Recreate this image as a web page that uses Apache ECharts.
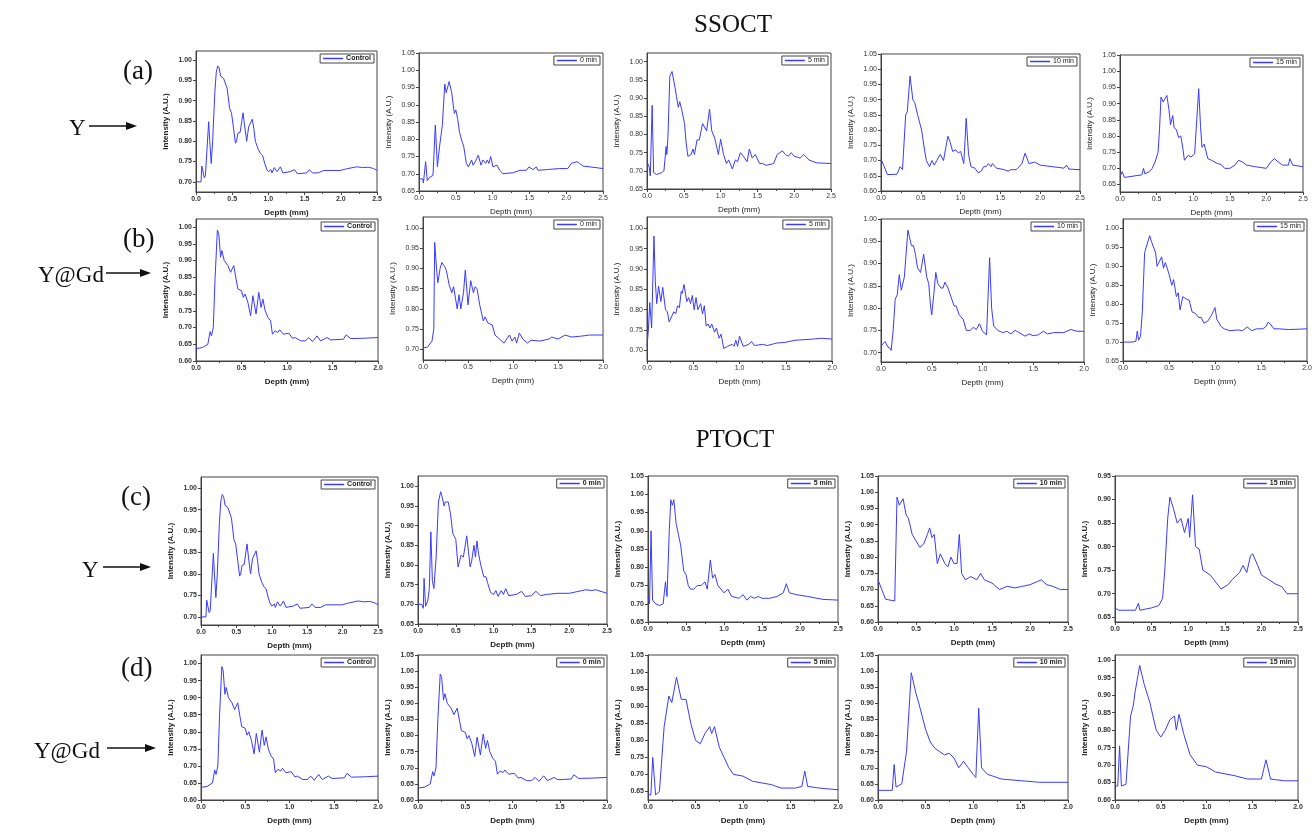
<!DOCTYPE html>
<html>
<head>
<meta charset="utf-8">
<script src="https://cdn.jsdelivr.net/npm/echarts@6/dist/echarts.min.js"></script>
<style>
html,body{margin:0;padding:0;background:#fff}
#main{width:1316px;height:839px}
</style>
</head>
<body>
<div id="main"></div>
<script>
// depth (mm), intensity (A.U.)
var ssY_ctrl = [[0,0.70],[0.07,0.70],[0.08,0.739],[0.095,0.735],[0.115,0.71],[0.13,0.715],[0.175,0.848],[0.19,0.80],[0.21,0.745],[0.23,0.80],[0.26,0.92],[0.28,0.97],[0.30,0.985],[0.32,0.98],[0.34,0.96],[0.36,0.96],[0.38,0.955],[0.405,0.955],[0.43,0.93],[0.465,0.88],[0.49,0.87],[0.52,0.83],[0.545,0.795],[0.56,0.80],[0.58,0.82],[0.61,0.822],[0.65,0.87],[0.67,0.84],[0.70,0.80],[0.727,0.835],[0.75,0.832],[0.778,0.854],[0.80,0.83],[0.82,0.80],[0.86,0.78],[0.89,0.77],[0.92,0.765],[0.95,0.745],[0.98,0.73],[1.0,0.725],[1.035,0.73],[1.05,0.722],[1.08,0.735],[1.12,0.725],[1.165,0.737],[1.2,0.722],[1.3,0.725],[1.36,0.73],[1.40,0.72],[1.53,0.722],[1.565,0.73],[1.61,0.722],[1.69,0.722],[1.76,0.728],[1.99,0.728],[2.08,0.732],[2.22,0.737],[2.3,0.735],[2.38,0.736],[2.45,0.733],[2.5,0.728]];
var ssY_0 = [[0,0.685],[0.05,0.685],[0.06,0.673],[0.09,0.735],[0.113,0.68],[0.145,0.69],[0.19,0.695],[0.222,0.841],[0.25,0.72],[0.28,0.78],[0.317,0.84],[0.35,0.96],[0.37,0.935],[0.385,0.94],[0.41,0.967],[0.444,0.935],[0.455,0.94],[0.48,0.875],[0.50,0.885],[0.525,0.86],[0.55,0.82],[0.59,0.79],[0.607,0.78],[0.643,0.73],[0.67,0.72],[0.69,0.725],[0.715,0.74],[0.734,0.725],[0.765,0.735],[0.806,0.754],[0.842,0.725],[0.87,0.74],[0.906,0.73],[0.928,0.74],[0.95,0.73],[0.974,0.75],[1.005,0.72],[1.06,0.725],[1.096,0.71],[1.14,0.70],[1.28,0.703],[1.37,0.71],[1.46,0.71],[1.495,0.72],[1.55,0.712],[1.594,0.72],[1.617,0.71],[1.73,0.712],[1.91,0.715],[2.02,0.715],[2.07,0.73],[2.15,0.735],[2.18,0.73],[2.23,0.722],[2.32,0.72],[2.5,0.715]];
var ssY_5 = [[0,0.725],[0.03,0.71],[0.045,0.686],[0.07,0.88],[0.09,0.695],[0.13,0.69],[0.2,0.695],[0.23,0.70],[0.26,0.767],[0.27,0.745],[0.285,0.795],[0.31,0.96],[0.34,0.973],[0.38,0.93],[0.40,0.905],[0.425,0.875],[0.445,0.89],[0.47,0.87],[0.51,0.83],[0.53,0.78],[0.555,0.74],[0.60,0.745],[0.625,0.76],[0.645,0.745],[0.68,0.785],[0.71,0.785],[0.755,0.83],[0.78,0.83],[0.81,0.81],[0.85,0.87],[0.88,0.81],[0.92,0.79],[0.97,0.745],[1.0,0.787],[1.04,0.745],[1.08,0.72],[1.11,0.73],[1.16,0.705],[1.2,0.73],[1.23,0.725],[1.27,0.75],[1.31,0.74],[1.36,0.725],[1.39,0.76],[1.43,0.735],[1.47,0.745],[1.53,0.72],[1.57,0.72],[1.62,0.715],[1.72,0.72],[1.77,0.745],[1.84,0.755],[1.88,0.745],[1.92,0.74],[1.96,0.75],[2.0,0.74],[2.08,0.735],[2.13,0.745],[2.2,0.73],[2.3,0.722],[2.5,0.72]];
var ssY_10 = [[0,0.705],[0.04,0.681],[0.08,0.654],[0.2,0.655],[0.24,0.68],[0.27,0.67],[0.31,0.85],[0.33,0.86],[0.365,0.978],[0.40,0.90],[0.425,0.89],[0.46,0.85],[0.51,0.80],[0.55,0.73],[0.57,0.70],[0.59,0.705],[0.61,0.68],[0.64,0.70],[0.67,0.685],[0.70,0.70],[0.745,0.72],[0.785,0.70],[0.84,0.78],[0.87,0.76],[0.90,0.73],[0.94,0.735],[0.97,0.725],[1.0,0.73],[1.04,0.69],[1.07,0.839],[1.10,0.72],[1.13,0.68],[1.18,0.675],[1.22,0.66],[1.26,0.665],[1.29,0.68],[1.32,0.68],[1.35,0.69],[1.38,0.68],[1.40,0.69],[1.45,0.675],[1.55,0.67],[1.60,0.665],[1.63,0.67],[1.65,0.665],[1.70,0.67],[1.77,0.69],[1.81,0.724],[1.86,0.69],[1.93,0.695],[2.0,0.685],[2.15,0.68],[2.3,0.675],[2.33,0.685],[2.36,0.672],[2.5,0.67]];
var ssY_15 = [[0,0.675],[0.03,0.69],[0.06,0.672],[0.15,0.675],[0.30,0.68],[0.32,0.70],[0.34,0.683],[0.40,0.69],[0.44,0.70],[0.48,0.72],[0.52,0.75],[0.54,0.82],[0.56,0.92],[0.59,0.905],[0.61,0.905],[0.64,0.925],[0.67,0.88],[0.69,0.835],[0.72,0.863],[0.74,0.825],[0.77,0.82],[0.80,0.795],[0.83,0.80],[0.86,0.76],[0.88,0.725],[0.90,0.72],[0.93,0.74],[0.97,0.735],[1.02,0.745],[1.04,0.74],[1.075,0.946],[1.10,0.83],[1.12,0.765],[1.15,0.775],[1.20,0.73],[1.25,0.725],[1.33,0.715],[1.38,0.712],[1.43,0.70],[1.50,0.70],[1.57,0.71],[1.62,0.725],[1.67,0.72],[1.73,0.71],[1.85,0.705],[2.0,0.70],[2.06,0.72],[2.11,0.73],[2.16,0.72],[2.22,0.71],[2.30,0.71],[2.32,0.73],[2.36,0.71],[2.5,0.705]];

var ssYGd_ctrl = [[0,0.637],[0.07,0.64],[0.13,0.65],[0.155,0.688],[0.17,0.675],[0.19,0.70],[0.21,0.85],[0.235,0.991],[0.25,0.98],[0.27,0.91],[0.285,0.93],[0.31,0.90],[0.35,0.885],[0.38,0.865],[0.415,0.885],[0.44,0.845],[0.46,0.815],[0.48,0.812],[0.50,0.81],[0.52,0.79],[0.54,0.80],[0.57,0.775],[0.60,0.735],[0.625,0.795],[0.66,0.74],[0.69,0.805],[0.715,0.76],[0.735,0.785],[0.76,0.75],[0.79,0.73],[0.82,0.72],[0.84,0.68],[0.87,0.69],[0.90,0.685],[0.92,0.693],[0.96,0.68],[1.02,0.683],[1.06,0.668],[1.09,0.67],[1.15,0.66],[1.20,0.66],[1.24,0.67],[1.28,0.658],[1.33,0.675],[1.37,0.66],[1.44,0.67],[1.48,0.663],[1.62,0.665],[1.65,0.678],[1.70,0.667],[1.85,0.668],[2.0,0.67]];
var ssYGd_0 = [[0,0.703],[0.05,0.705],[0.10,0.72],[0.12,0.75],[0.13,0.965],[0.15,0.90],[0.165,0.865],[0.19,0.90],[0.21,0.915],[0.24,0.905],[0.26,0.895],[0.29,0.86],[0.32,0.84],[0.34,0.855],[0.38,0.80],[0.40,0.835],[0.42,0.80],[0.45,0.84],[0.47,0.896],[0.50,0.81],[0.53,0.87],[0.56,0.84],[0.58,0.855],[0.60,0.85],[0.63,0.81],[0.67,0.77],[0.69,0.78],[0.72,0.765],[0.77,0.76],[0.80,0.735],[0.85,0.725],[0.90,0.715],[0.96,0.735],[0.99,0.72],[1.02,0.73],[1.04,0.715],[1.07,0.74],[1.11,0.725],[1.16,0.715],[1.20,0.722],[1.30,0.72],[1.40,0.725],[1.43,0.73],[1.50,0.725],[1.58,0.735],[1.65,0.73],[1.75,0.732],[1.85,0.735],[2.0,0.735]];
var ssYGd_5 = [[0,0.71],[0.015,0.75],[0.03,0.818],[0.05,0.755],[0.075,0.981],[0.09,0.87],[0.105,0.815],[0.125,0.858],[0.15,0.82],[0.17,0.855],[0.20,0.80],[0.22,0.795],[0.24,0.77],[0.26,0.77],[0.29,0.795],[0.31,0.79],[0.33,0.81],[0.35,0.805],[0.37,0.845],[0.38,0.84],[0.40,0.862],[0.43,0.82],[0.45,0.83],[0.47,0.815],[0.49,0.835],[0.51,0.80],[0.53,0.83],[0.55,0.80],[0.58,0.815],[0.60,0.79],[0.62,0.81],[0.64,0.76],[0.66,0.765],[0.68,0.755],[0.70,0.765],[0.73,0.745],[0.75,0.755],[0.78,0.73],[0.80,0.74],[0.83,0.705],[0.87,0.71],[0.92,0.715],[0.94,0.71],[0.96,0.725],[0.98,0.71],[1.0,0.735],[1.04,0.71],[1.10,0.715],[1.13,0.722],[1.16,0.712],[1.25,0.715],[1.30,0.712],[1.40,0.718],[1.50,0.72],[1.60,0.725],[1.80,0.728],[1.88,0.73],[2.0,0.728]];
var ssYGd_10 = [[0,0.715],[0.04,0.725],[0.07,0.712],[0.09,0.71],[0.10,0.705],[0.12,0.75],[0.14,0.82],[0.16,0.83],[0.18,0.875],[0.20,0.84],[0.23,0.87],[0.265,0.975],[0.28,0.96],[0.30,0.94],[0.32,0.94],[0.34,0.92],[0.36,0.89],[0.39,0.88],[0.42,0.921],[0.45,0.87],[0.47,0.855],[0.49,0.80],[0.50,0.785],[0.52,0.83],[0.54,0.88],[0.56,0.855],[0.59,0.845],[0.61,0.845],[0.63,0.858],[0.66,0.845],[0.69,0.825],[0.72,0.805],[0.74,0.805],[0.77,0.785],[0.79,0.78],[0.81,0.775],[0.84,0.75],[0.88,0.75],[0.91,0.757],[0.94,0.752],[0.97,0.765],[1.0,0.748],[1.04,0.74],[1.07,0.913],[1.09,0.80],[1.11,0.76],[1.15,0.75],[1.20,0.745],[1.24,0.748],[1.28,0.742],[1.32,0.75],[1.36,0.745],[1.42,0.737],[1.46,0.742],[1.50,0.738],[1.55,0.74],[1.60,0.748],[1.64,0.742],[1.70,0.745],[1.80,0.745],[1.87,0.752],[1.93,0.748],[2.0,0.748]];
var ssYGd_15 = [[0,0.70],[0.10,0.70],[0.14,0.702],[0.155,0.729],[0.17,0.705],[0.19,0.715],[0.21,0.78],[0.235,0.936],[0.255,0.94],[0.29,0.981],[0.31,0.965],[0.33,0.96],[0.355,0.935],[0.37,0.90],[0.39,0.91],[0.42,0.925],[0.44,0.895],[0.46,0.91],[0.50,0.88],[0.51,0.875],[0.53,0.85],[0.55,0.865],[0.58,0.82],[0.60,0.83],[0.62,0.785],[0.65,0.82],[0.68,0.815],[0.72,0.81],[0.75,0.78],[0.79,0.775],[0.82,0.765],[0.85,0.765],[0.88,0.75],[0.92,0.755],[0.96,0.77],[1.0,0.791],[1.02,0.76],[1.04,0.765],[1.07,0.74],[1.10,0.735],[1.16,0.73],[1.25,0.732],[1.30,0.73],[1.35,0.74],[1.40,0.73],[1.45,0.735],[1.52,0.735],[1.55,0.74],[1.58,0.753],[1.61,0.745],[1.64,0.735],[1.70,0.735],[1.80,0.733],[2.0,0.735]];

var ptY_ctrl = ssY_ctrl;
var ptY_0 = [[0,0.70],[0.05,0.70],[0.07,0.69],[0.08,0.766],[0.10,0.695],[0.13,0.71],[0.15,0.74],[0.17,0.884],[0.19,0.76],[0.21,0.74],[0.24,0.82],[0.27,0.96],[0.30,0.986],[0.31,0.98],[0.345,0.95],[0.36,0.96],[0.38,0.955],[0.40,0.96],[0.43,0.93],[0.46,0.88],[0.48,0.885],[0.50,0.865],[0.53,0.795],[0.55,0.80],[0.57,0.825],[0.60,0.82],[0.645,0.874],[0.67,0.83],[0.69,0.795],[0.71,0.81],[0.74,0.85],[0.76,0.82],[0.78,0.861],[0.80,0.83],[0.83,0.80],[0.87,0.77],[0.90,0.77],[0.92,0.755],[0.96,0.73],[1.0,0.725],[1.03,0.735],[1.06,0.72],[1.10,0.735],[1.13,0.725],[1.16,0.74],[1.20,0.722],[1.30,0.725],[1.37,0.733],[1.42,0.72],[1.50,0.722],[1.56,0.733],[1.62,0.722],[1.70,0.725],[1.85,0.728],[2.0,0.728],[2.10,0.732],[2.22,0.737],[2.30,0.735],[2.35,0.737],[2.5,0.728]];
var ptY_5 = [[0,0.72],[0.02,0.70],[0.04,0.90],[0.06,0.71],[0.10,0.70],[0.15,0.695],[0.20,0.70],[0.23,0.76],[0.25,0.72],[0.28,0.90],[0.30,0.985],[0.32,0.97],[0.34,0.985],[0.37,0.92],[0.40,0.89],[0.43,0.86],[0.47,0.79],[0.50,0.78],[0.53,0.75],[0.56,0.74],[0.60,0.74],[0.65,0.75],[0.70,0.75],[0.75,0.76],[0.78,0.74],[0.82,0.82],[0.85,0.77],[0.88,0.78],[0.92,0.75],[1.0,0.73],[1.05,0.74],[1.10,0.72],[1.20,0.715],[1.25,0.725],[1.30,0.71],[1.35,0.72],[1.40,0.715],[1.45,0.72],[1.50,0.715],[1.60,0.715],[1.70,0.72],[1.78,0.73],[1.82,0.755],[1.86,0.73],[1.95,0.725],[2.10,0.72],[2.30,0.712],[2.5,0.71]];
var ptY_10 = [[0,0.73],[0.05,0.70],[0.10,0.67],[0.22,0.665],[0.25,0.985],[0.28,0.96],[0.30,0.965],[0.33,0.98],[0.37,0.93],[0.40,0.92],[0.45,0.87],[0.50,0.85],[0.55,0.83],[0.60,0.84],[0.65,0.87],[0.68,0.89],[0.71,0.86],[0.74,0.87],[0.78,0.78],[0.82,0.81],[0.88,0.78],[0.92,0.77],[0.96,0.80],[1.0,0.78],[1.04,0.78],[1.07,0.87],[1.10,0.75],[1.15,0.73],[1.22,0.74],[1.30,0.73],[1.35,0.75],[1.40,0.73],[1.50,0.72],[1.60,0.70],[1.70,0.71],[1.80,0.705],[1.90,0.71],[2.0,0.715],[2.10,0.725],[2.15,0.73],[2.22,0.715],[2.30,0.71],[2.40,0.70],[2.5,0.70]];
var ptY_15 = [[0,0.67],[0.05,0.665],[0.28,0.665],[0.32,0.68],[0.34,0.665],[0.50,0.67],[0.60,0.675],[0.65,0.69],[0.68,0.75],[0.72,0.86],[0.75,0.905],[0.80,0.88],[0.85,0.85],[0.90,0.86],[0.95,0.83],[1.0,0.86],[1.02,0.82],[1.06,0.91],[1.10,0.80],[1.15,0.795],[1.20,0.75],[1.30,0.74],[1.35,0.73],[1.45,0.71],[1.55,0.72],[1.60,0.73],[1.70,0.745],[1.75,0.76],[1.80,0.745],[1.85,0.78],[1.88,0.785],[1.95,0.76],[2.0,0.74],[2.10,0.73],[2.20,0.72],[2.28,0.715],[2.35,0.70],[2.5,0.70]];

var ptYGd_ctrl = ssYGd_ctrl;
var ptYGd_0 = ssYGd_ctrl;
var ptYGd_5 = [[0,0.64],[0.03,0.64],[0.05,0.75],[0.08,0.64],[0.12,0.65],[0.17,0.84],[0.22,0.93],[0.25,0.91],[0.30,0.985],[0.35,0.92],[0.40,0.92],[0.45,0.85],[0.50,0.80],[0.55,0.79],[0.60,0.82],[0.65,0.84],[0.67,0.82],[0.70,0.84],[0.75,0.78],[0.80,0.75],[0.85,0.72],[0.90,0.70],[1.0,0.695],[1.10,0.68],[1.20,0.675],[1.30,0.67],[1.40,0.66],[1.55,0.66],[1.62,0.665],[1.65,0.71],[1.68,0.665],[1.80,0.66],[2.0,0.655]];
var ptYGd_10 = [[0,0.63],[0.15,0.63],[0.17,0.71],[0.19,0.64],[0.25,0.65],[0.30,0.75],[0.35,0.995],[0.40,0.93],[0.43,0.90],[0.50,0.82],[0.55,0.78],[0.60,0.76],[0.65,0.75],[0.70,0.74],[0.75,0.745],[0.80,0.73],[0.85,0.70],[0.90,0.72],[0.95,0.70],[1.0,0.68],[1.03,0.67],[1.06,0.885],[1.09,0.70],[1.15,0.68],[1.30,0.665],[1.50,0.66],[1.70,0.655],[2.0,0.655]];
var ptYGd_15 = [[0,0.64],[0.03,0.64],[0.05,0.755],[0.07,0.64],[0.12,0.645],[0.17,0.84],[0.20,0.87],[0.22,0.91],[0.27,0.985],[0.32,0.93],[0.38,0.88],[0.45,0.80],[0.50,0.78],[0.55,0.80],[0.60,0.83],[0.65,0.84],[0.67,0.80],[0.70,0.845],[0.75,0.79],[0.82,0.73],[0.90,0.70],[1.0,0.695],[1.10,0.68],[1.30,0.67],[1.45,0.66],[1.60,0.66],[1.65,0.715],[1.70,0.66],[1.85,0.655],[2.0,0.655]];

// layout of the 20 panels: [left, top, width, height] in px
var panels = [
  {name:'Control', data:ssY_ctrl,  box:[196,51,181,141],  xMax:2.5, yMin:0.675, yMax:1.022, bold:true},
  {name:'0 min',   data:ssY_0,     box:[419,53,184,138],  xMax:2.5, yMin:0.65,  yMax:1.05,  bold:false},
  {name:'5 min',   data:ssY_5,     box:[647,53,184,136],  xMax:2.5, yMin:0.65,  yMax:1.024, bold:false},
  {name:'10 min',  data:ssY_10,    box:[881,54,199,137],  xMax:2.5, yMin:0.60,  yMax:1.05,  bold:false},
  {name:'15 min',  data:ssY_15,    box:[1120,55,183,137], xMax:2.5, yMin:0.627, yMax:1.05,  bold:false},
  {name:'Control', data:ssYGd_ctrl,box:[196,219,182,142], xMax:2.0, yMin:0.60,  yMax:1.024, bold:true},
  {name:'0 min',   data:ssYGd_0,   box:[423,217,180,143], xMax:2.0, yMin:0.673, yMax:1.028, bold:false},
  {name:'5 min',   data:ssYGd_5,   box:[647,217,185,144], xMax:2.0, yMin:0.674, yMax:1.028, bold:false},
  {name:'10 min',  data:ssYGd_10,  box:[881,219,203,143], xMax:2.0, yMin:0.679, yMax:1.00,  bold:false},
  {name:'15 min',  data:ssYGd_15,  box:[1123,219,184,142],xMax:2.0, yMin:0.65,  yMax:1.025, bold:false},
  {name:'Control', data:ptY_ctrl,  box:[201,477,177,148], xMax:2.5, yMin:0.681, yMax:1.026, bold:true},
  {name:'0 min',   data:ptY_0,     box:[418,476,189,148], xMax:2.5, yMin:0.65,  yMax:1.026, bold:true},
  {name:'5 min',   data:ptY_5,     box:[648,476,190,146], xMax:2.5, yMin:0.65,  yMax:1.05,  bold:true},
  {name:'10 min',  data:ptY_10,    box:[878,476,190,146], xMax:2.5, yMin:0.60,  yMax:1.05,  bold:true},
  {name:'15 min',  data:ptY_15,    box:[1115,476,183,146],xMax:2.5, yMin:0.64,  yMax:0.95,  bold:true},
  {name:'Control', data:ptYGd_ctrl,box:[201,655,177,145], xMax:2.0, yMin:0.60,  yMax:1.025, bold:true},
  {name:'0 min',   data:ptYGd_0,   box:[418,655,189,145], xMax:2.0, yMin:0.60,  yMax:1.05,  bold:true},
  {name:'5 min',   data:ptYGd_5,   box:[648,655,190,145], xMax:2.0, yMin:0.625, yMax:1.05,  bold:true},
  {name:'10 min',  data:ptYGd_10,  box:[878,655,190,145], xMax:2.0, yMin:0.60,  yMax:1.05,  bold:true},
  {name:'15 min',  data:ptYGd_15,  box:[1115,655,183,145],xMax:2.0, yMin:0.60,  yMax:1.015, bold:true}
];

var W = 1316;
var LINE = '#3a3aff';
var AX = '#444';
var SANS = 'Liberation Sans';
var SERIF = 'Liberation Serif';

function ticks(lo, hi) {
  var out = [];
  for (var k = Math.ceil(lo * 20 - 1e-6); k <= Math.floor(hi * 20 + 1e-6); k++) out.push(k / 20);
  return out;
}

var myChart = echarts.init(document.getElementById('main'), null, {renderer: 'canvas'});

var grid = [], xAxis = [], yAxis = [], series = [], legend = [];
panels.forEach(function (p, i) {
  var fw = p.bold ? 'bold' : 'normal';
  var tv = ticks(p.yMin, p.yMax);
  grid.push({left: p.box[0], top: p.box[1], width: p.box[2], height: p.box[3],
    show: true, borderColor: AX, borderWidth: 1, backgroundColor: 'transparent'});
  xAxis.push({
    type: 'value', gridIndex: i, min: 0, max: p.xMax, interval: 0.5,
    name: 'Depth (mm)', nameLocation: 'middle', nameGap: 17,
    nameTextStyle: {fontFamily: SANS, fontSize: 8, fontWeight: fw, color: '#222'},
    axisLine: {show: true, lineStyle: {color: AX, width: 1}},
    axisTick: {show: true, inside: false, length: 3, lineStyle: {color: AX}},
    minorTick: {show: true, splitNumber: 2, length: 2, lineStyle: {color: AX}},
    axisLabel: {fontFamily: SANS, fontSize: 7, fontWeight: fw, color: '#333', margin: 4,
      formatter: function (v) { return v.toFixed(1); }},
    splitLine: {show: false}
  });
  yAxis.push({
    type: 'value', gridIndex: i, min: p.yMin, max: p.yMax,
    name: 'Intensity (A.U.)', nameLocation: 'middle', nameGap: 26, nameRotate: 90,
    nameTextStyle: {fontFamily: SANS, fontSize: 8, fontWeight: fw, color: '#222'},
    axisLine: {show: true, lineStyle: {color: AX, width: 1}},
    axisTick: {show: true, inside: false, length: 3, lineStyle: {color: AX}, customValues: tv},
    axisLabel: {fontFamily: SANS, fontSize: 7, fontWeight: fw, color: '#333', margin: 4,
      customValues: tv, formatter: function (v) { return v.toFixed(2); }},
    splitLine: {show: false}
  });
  series.push({
    type: 'line', name: p.name, xAxisIndex: i, yAxisIndex: i,
    data: p.data, symbol: 'none', showSymbol: false, silent: true, animation: false,
    lineStyle: {color: LINE, width: 1}, itemStyle: {color: LINE}
  });
  legend.push({
    data: [p.name], selectedMode: false, orient: 'horizontal',
    right: W - (p.box[0] + p.box[2]) + 3, top: p.box[1] + 3,
    icon: 'rect', itemWidth: 20, itemHeight: 1.5, itemGap: 2,
    padding: [1, 3, 1, 3], borderColor: AX, borderWidth: 1,
    textStyle: {fontFamily: SANS, fontSize: 7, fontWeight: fw, color: '#222', padding: [0, 0, 0, -2]}
  });
});

var big = {fontFamily: SERIF, fontSize: 27, fontWeight: 'normal', color: '#111'};
var mid = {fontFamily: SERIF, fontSize: 23, fontWeight: 'normal', color: '#111'};
var titles = [
  {text: 'SSOCT', left: 728, top: 8, textAlign: 'center', textStyle: {fontFamily: SERIF, fontSize: 25, fontWeight: 'normal', color: '#111'}},
  {text: 'PTOCT', left: 730, top: 423, textAlign: 'center', textStyle: {fontFamily: SERIF, fontSize: 25, fontWeight: 'normal', color: '#111'}},
  {text: '(a)', left: 118, top: 53, textStyle: big},
  {text: '(b)', left: 118, top: 221, textStyle: big},
  {text: '(c)', left: 116, top: 479, textStyle: big},
  {text: '(d)', left: 116, top: 650, textStyle: big},
  {text: 'Y', left: 64, top: 112, textStyle: mid},
  {text: 'Y@Gd', left: 33, top: 259, textStyle: mid},
  {text: 'Y', left: 77, top: 554, textStyle: mid},
  {text: 'Y@Gd', left: 29, top: 735, textStyle: mid}
];

// arrows pointing from the sample labels to their rows
function arrow(x1, x2, y) {
  return [
    {type: 'line', shape: {x1: x1, y1: y, x2: x2 - 8, y2: y}, style: {stroke: '#111', lineWidth: 1.5}},
    {type: 'polygon', shape: {points: [[x2, y], [x2 - 11, y - 4], [x2 - 11, y + 4]]}, style: {fill: '#111'}}
  ];
}
var graphic = [].concat(arrow(89, 137, 126), arrow(106, 151, 273), arrow(103, 151, 567), arrow(107, 156, 748));

var option = {
  backgroundColor: '#fff',
  animation: false,
  title: titles,
  grid: grid,
  xAxis: xAxis,
  yAxis: yAxis,
  legend: legend,
  series: series,
  graphic: graphic
};
myChart.setOption(option);
</script>
</body>
</html>
